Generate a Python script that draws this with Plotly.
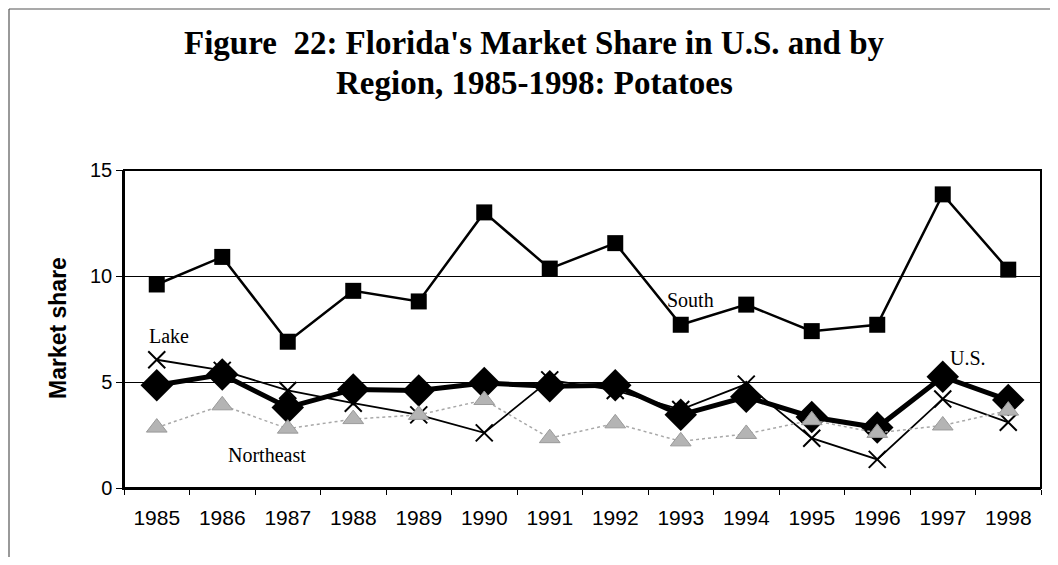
import plotly.graph_objects as go

years = ["1985", "1986", "1987", "1988", "1989", "1990", "1991",
         "1992", "1993", "1994", "1995", "1996", "1997", "1998"]
south = [9.6, 10.9, 6.9, 9.3, 8.8, 13.0, 10.35, 11.55, 7.7, 8.65, 7.4, 7.7, 13.85, 10.3]
us = [4.85, 5.35, 3.8, 4.65, 4.6, 4.95, 4.8, 4.85, 3.45, 4.3, 3.35, 2.85, 5.25, 4.15]
lake = [6.05, 5.55, 4.6, 4.0, 3.45, 2.6, 5.1, 4.6, 3.7, 4.9, 2.35, 1.35, 4.2, 3.1]
northeast = [2.85, 3.9, 2.8, 3.25, 3.45, 4.15, 2.35, 3.05, 2.2, 2.55, 3.2, 2.6, 2.95, 3.65]
y_ticks = [0, 5, 10, 15]

fig = go.Figure()
fig.add_trace(go.Scatter(x=years, y=south, mode="lines+markers", name="South",
                         line=dict(color="black", width=2.5),
                         marker=dict(symbol="square", size=16, color="black")))
fig.add_trace(go.Scatter(x=years, y=us, mode="lines+markers", name="U.S.",
                         line=dict(color="black", width=5),
                         marker=dict(symbol="diamond", size=25, color="black")))
fig.add_trace(go.Scatter(x=years, y=lake, mode="lines+markers", name="Lake",
                         line=dict(color="black", width=1.8),
                         marker=dict(symbol="x-thin", size=17, color="black",
                                     line=dict(color="black", width=2))))
fig.add_trace(go.Scatter(x=years, y=northeast, mode="lines+markers", name="Northeast",
                         line=dict(color="#a8a8a8", width=1.5, dash="dot"),
                         marker=dict(symbol="triangle-up", size=18, color="#b4b4b4",
                                     line=dict(color="#9a9a9a", width=1))))

OFF = 8  # page body margin offset
L, R, T, B = 124 - OFF, 1041 - OFF, 170 - OFF, 488 - OFF
W, H = 1042, 549
pw, ph = R - L, B - T

def px(x):
    return (x - OFF - L) / pw

def py(y):
    return (B - (y - OFF)) / ph

serif = "Liberation Serif, Times New Roman, serif"
sans = "Liberation Sans, Arial, sans-serif"

annots = [("Lake", 169, 336), ("Northeast", 267, 455), ("South", 690, 300), ("U.S.", 968, 358)]
annotations = [dict(text=t, x=px(x), y=py(y), xref="paper", yref="paper",
                    showarrow=False, xanchor="center", yanchor="middle",
                    font=dict(family=serif, size=20, color="black"))
               for t, x, y in annots]
annotations.append(dict(text="<b>Market share</b>", x=px(58), y=py(328), xref="paper", yref="paper",
                        showarrow=False, textangle=-90, xanchor="center", yanchor="middle",
                        font=dict(family=sans, size=23, color="black")))
annotations.append(dict(text="<b>Figure  22: Florida's Market Share in U.S. and by</b>",
                        x=px(534), y=py(43), xref="paper", yref="paper", showarrow=False,
                        xanchor="center", yanchor="middle",
                        font=dict(family=serif, size=33, color="black")))
annotations.append(dict(text="<b>Region, 1985-1998: Potatoes</b>",
                        x=px(534), y=py(83), xref="paper", yref="paper", showarrow=False,
                        xanchor="center", yanchor="middle",
                        font=dict(family=serif, size=33, color="black")))

shapes = [
    dict(type="line", xref="paper", yref="paper", x0=px(9), x1=px(9), y0=py(9), y1=py(575),
         line=dict(color="#555", width=1.2)),
    dict(type="line", xref="paper", yref="paper", x0=px(9), x1=px(1070), y0=py(9), y1=py(9),
         line=dict(color="#555", width=1.2)),
    dict(type="rect", xref="paper", yref="paper", x0=0, x1=1, y0=0, y1=1,
         line=dict(color="black", width=2)),
]

fig.update_layout(
    width=W, height=H,
    margin=dict(l=L, r=W - R, t=T, b=H - B, autoexpand=False),
    paper_bgcolor="white", plot_bgcolor="white",
    showlegend=False,
    annotations=annotations,
    shapes=shapes,
    xaxis=dict(type="category", range=[-0.5, 13.5], showgrid=False,
               showline=True, linecolor="black", linewidth=1.5,
               ticks="outside", ticklen=5, tickcolor="black", tickson="boundaries",
               tickfont=dict(family=sans, size=21, color="black"),
               ticklabelstandoff=10),
    yaxis=dict(range=[0, 15], tickvals=y_ticks, showgrid=True, gridcolor="black", gridwidth=1,
               showline=True, linecolor="black", linewidth=1.5, zeroline=False,
               ticks="outside", ticklen=6, tickcolor="black",
               tickfont=dict(family=sans, size=20, color="black")),
)

fig.write_html("out.html")
